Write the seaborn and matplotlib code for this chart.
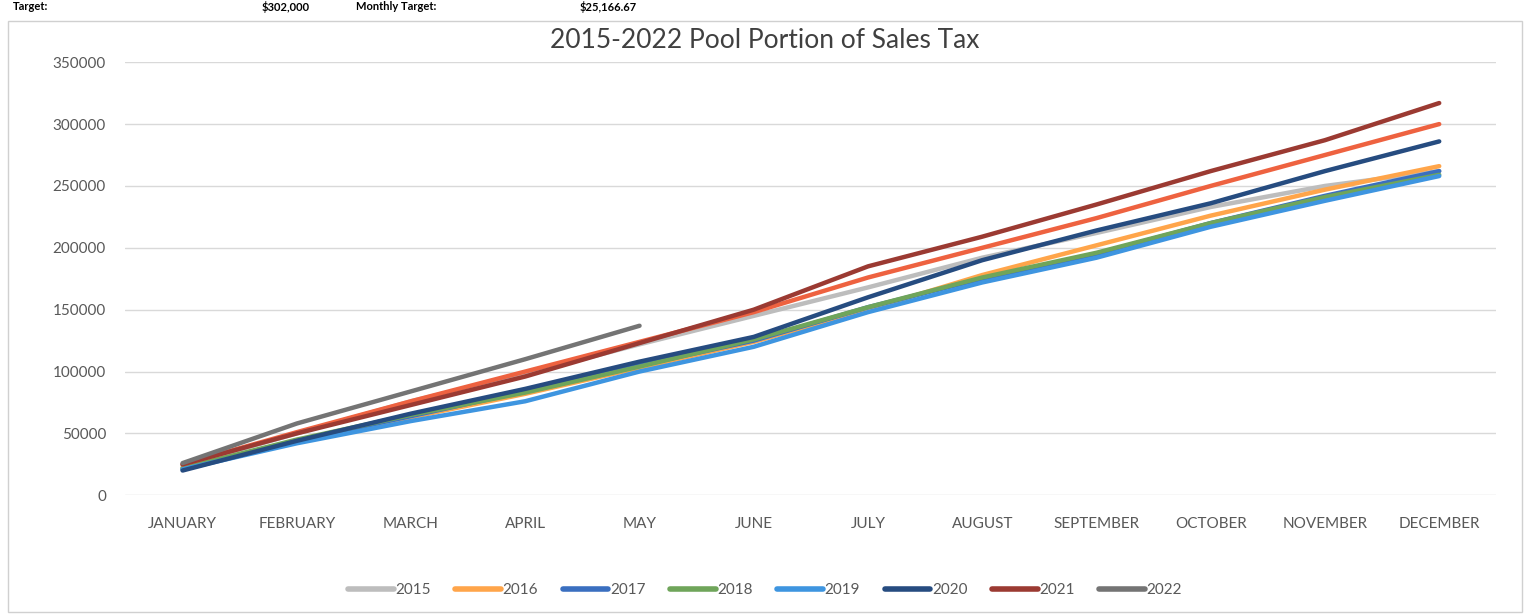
import pandas as pd
import matplotlib.pyplot as plt
import seaborn as sns
from matplotlib.patches import Rectangle

months = ['JANUARY', 'FEBRUARY', 'MARCH', 'APRIL', 'MAY', 'JUNE', 'JULY',
          'AUGUST', 'SEPTEMBER', 'OCTOBER', 'NOVEMBER', 'DECEMBER']

# cumulative pool portion of sales tax
y2015 = [24000, 50000, 76000, 98000, 122000, 145000, 168000, 192000, 212000, 233000, 250000, 262000]
y2016 = [22000, 44000, 63000, 82000, 103000, 124000, 150000, 178000, 202000, 226000, 247000, 266000]
y2017 = [21000, 44000, 64000, 84000, 105000, 125000, 152000, 175000, 195000, 220000, 242000, 262000]
y2018 = [22000, 45000, 65000, 83000, 104000, 126000, 152000, 176000, 196000, 220000, 241000, 259000]
y2019 = [21000, 42000, 60000, 76000, 100000, 120000, 148000, 172000, 192000, 217000, 238000, 258000]
y2020 = [20000, 44000, 66000, 86000, 108000, 128000, 160000, 190000, 214000, 236000, 262000, 286000]
y2021 = [25000, 50000, 73000, 96000, 123000, 150000, 185000, 209000, 235000, 262000, 287000, 317000]
y2022 = [26000, 58000, 84000, 110000, 137000]
# unlabelled coral series (not in the legend of the original)
extra = [25000, 51000, 76000, 100000, 124000, 148000, 176000, 200000, 224000, 250000, 275000, 300000]

series = {'2015': y2015, '2016': y2016, '2017': y2017, '2018': y2018,
          '2019': y2019, '2020': y2020, '2021': y2021, '2022': y2022}
colors = {'2015': '#BDBDBD', '2016': '#FFA54A', '2017': '#3A6FC0', '2018': '#6FA55A',
          '2019': '#3E95E0', '2020': '#264C80', '2021': '#9B3A32', '2022': '#747474'}

rows = []
for yr, vals in series.items():
    for m, v in zip(months, vals):
        rows.append({'month': m, 'year': yr, 'value': v})
df = pd.DataFrame(rows)
df_extra = pd.DataFrame({'month': months, 'value': extra})

sns.set_style('white')
plt.rcParams['font.family'] = ['Lato', 'DejaVu Sans']

fig = plt.figure(figsize=(15.3, 6.16), dpi=100)
ax = fig.add_axes([0.082, 0.196, 0.896, 0.703])

order = ['2015', '2016', '2017', '2018', '2019', '2020']
sns.lineplot(data=df[df.year.isin(order)], x='month', y='value', hue='year',
             hue_order=order, palette=colors, sort=False, linewidth=3.2, ax=ax, legend=False)
sns.lineplot(data=df_extra, x='month', y='value', color='#EE6240', sort=False,
             linewidth=3.2, ax=ax, legend=False)
sns.lineplot(data=df[df.year.isin(['2021', '2022'])], x='month', y='value', hue='year',
             hue_order=['2021', '2022'], palette=colors, sort=False, linewidth=3.2,
             ax=ax, legend=False)

ax.set_xlim(-0.5, 11.5)
ax.set_ylim(0, 350000)
ax.set_yticks(range(0, 350001, 50000))
ax.set_xlabel('')
ax.set_ylabel('')
ax.grid(axis='y', color='#D9D9D9', linewidth=1)
for s in ax.spines.values():
    s.set_visible(False)
ax.tick_params(axis='x', length=0, labelsize=11, colors='#595959', pad=16)
ax.tick_params(axis='y', length=0, labelsize=11, colors='#595959', pad=14)

fig.text(0.5, 0.935, '2015-2022 Pool Portion of Sales Tax', ha='center', va='center',
         fontsize=19, color='#404040')

handles = [plt.Line2D([], [], color=colors[y], linewidth=4) for y in series]
fig.legend(handles, list(series), loc='center', bbox_to_anchor=(0.5, 0.042), ncol=8,
           frameon=False, fontsize=11, handlelength=3, columnspacing=1.6,
           handletextpad=0.1, labelcolor='#595959')

# chart border
fig.patches.append(Rectangle((0.005, 0.006), 0.99, 0.96, transform=fig.transFigure,
                             fill=False, edgecolor='#D0D0D0', linewidth=1))

# header line from the scanned page (cut off in the original)
hdr = dict(fontsize=8, fontweight='bold', color='black', va='top')
fig.text(0.0085, 0.999, 'Target:', ha='left', **hdr)
fig.text(0.171, 0.999, '$302,000', ha='left', **hdr)
fig.text(0.233, 0.999, 'Monthly Target:', ha='left', **hdr)
fig.text(0.379, 0.999, '$25,166.67', ha='left', **hdr)

fig.savefig('out.png', dpi=100, facecolor='white')
